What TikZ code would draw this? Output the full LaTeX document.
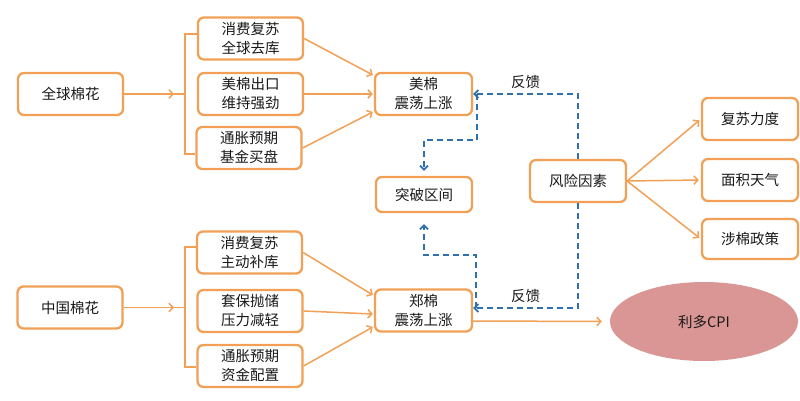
\documentclass[tikz,border=0pt]{standalone}
\usepackage{fontspec}
\setmainfont{Noto Sans CJK SC}
\usetikzlibrary{arrows.meta,shapes.geometric}

\definecolor{linkorange}{RGB}{241,160,86}
\definecolor{fbblue}{RGB}{46,112,176}
\definecolor{cpired}{RGB}{217,150,148}

\begin{document}
\begin{tikzpicture}[x=1pt,y=-1pt,
    box/.style={draw=linkorange,line width=2.3pt,rounded corners=6pt,fill=white,
        minimum width=105pt,minimum height=42pt,inner sep=0pt,align=center,
        font=\fontsize{14.5}{19}\selectfont,text=black!90},
    link/.style={draw=linkorange,line width=1.5pt},
    tip/.style={-{Straight Barb[length=4pt,width=8.5pt]}},
    fb/.style={draw=fbblue,line width=1.7pt,dash pattern=on 6pt off 4pt,
        -{Straight Barb[length=4pt,width=8pt]}},
    fblabel/.style={font=\fontsize{14.5}{16}\selectfont,text=black!90},
    cpi/.style={ellipse,fill=cpired,minimum width=188pt,minimum height=79pt,
        inner sep=0pt,font=\fontsize{14.5}{16}\selectfont,text=black!90}]
    \useasboundingbox (0,0) rectangle (800,401);

    % global side
    \node[box] (glb) at (70.5,94) {全球棉花};
    \node[box] (g1) at (250.5,38.5) {消费复苏\\全球去库};
    \node[box] (g2) at (250.5,94) {美棉出口\\维持强劲};
    \node[box] (g3) at (249,148) {通胀预期\\基金买盘};
    \node[box,minimum width=97pt] (usc) at (423.5,94) {美棉\\震荡上涨};

    % china side
    \node[box] (chn) at (70,307.5) {中国棉花};
    \node[box] (c1) at (249.5,252.5) {消费复苏\\主动补库};
    \node[box] (c2) at (250,311) {套保抛储\\压力减轻};
    \node[box] (c3) at (250,366) {通胀预期\\资金配置};
    \node[box,minimum width=97pt] (zzc) at (423.5,310.5) {郑棉\\震荡上涨};

    \node[box,minimum width=96pt,minimum height=35pt] (brk) at (424,194.5) {突破区间};
    \node[box,minimum width=96pt] (risk) at (578,181) {风险因素};
    \node[box,minimum width=96pt] (r1) at (750,119) {复苏力度};
    \node[box,minimum width=96pt] (r2) at (750,180) {面积天气};
    \node[box,minimum width=96pt,minimum height=40pt] (r3) at (750,239) {涉棉政策};
    \node[cpi] (cpi) at (704,321.5) {利多CPI};

    % braces
    \coordinate (gb) at (185,94);
    \coordinate (cb) at (185,307.5);
    \draw[link] ([yshift=4.5pt]g1.west) -| (gb) |- ([yshift=-6pt]g3.west);
    \draw[link] ([yshift=5.5pt]c1.west) -| (cb) |- ([yshift=-1pt]c3.west);
    \draw[link,tip] (glb.east) -- ([xshift=-11pt]gb);
    \draw[link] ([xshift=-12pt]gb) -- (gb);
    \draw[link,tip] (chn.east) -- ([xshift=-11pt]cb);
    \draw[link] ([xshift=-12pt]cb) -- (cb);

    \foreach \s/\d in {g1/19,g2/0,g3/-18}{
        \draw[link,tip] (\s.east) -- ([xshift=-1pt,yshift=\d pt]usc.west);
    }
    \foreach \s/\d in {c1/15.5,c2/-3.5,c3/-16.5}{
        \draw[link,tip] (\s.east) -- ([xshift=-1pt,yshift=\d pt]zzc.west);
    }
    \foreach \t in {r1,r2,r3}{
        \draw[link,tip,shorten >=2pt] (risk.east) -- (\t.west);
    }
    \draw[link,tip] ([yshift=-10.5pt]zzc.east) -- ([xshift=-8pt]cpi.west);

    % feedback
    \draw[fb] (risk.north) |- node[fblabel,pos=0.75,above=1pt] {反馈} (usc.east);
    \draw[fb] (risk.south) |- node[fblabel,pos=0.75,above=1pt] {反馈} ([yshift=2.5pt]zzc.east);
    \draw[fb] ([xshift=4pt]usc.east) -- ++(0,46) -| ([yshift=5pt]brk.north);
    \draw[fb] ([xshift=3pt,yshift=2.5pt]zzc.east) -- ++(0,-53) -| ([yshift=-11pt]brk.south);
\end{tikzpicture}
\end{document}
